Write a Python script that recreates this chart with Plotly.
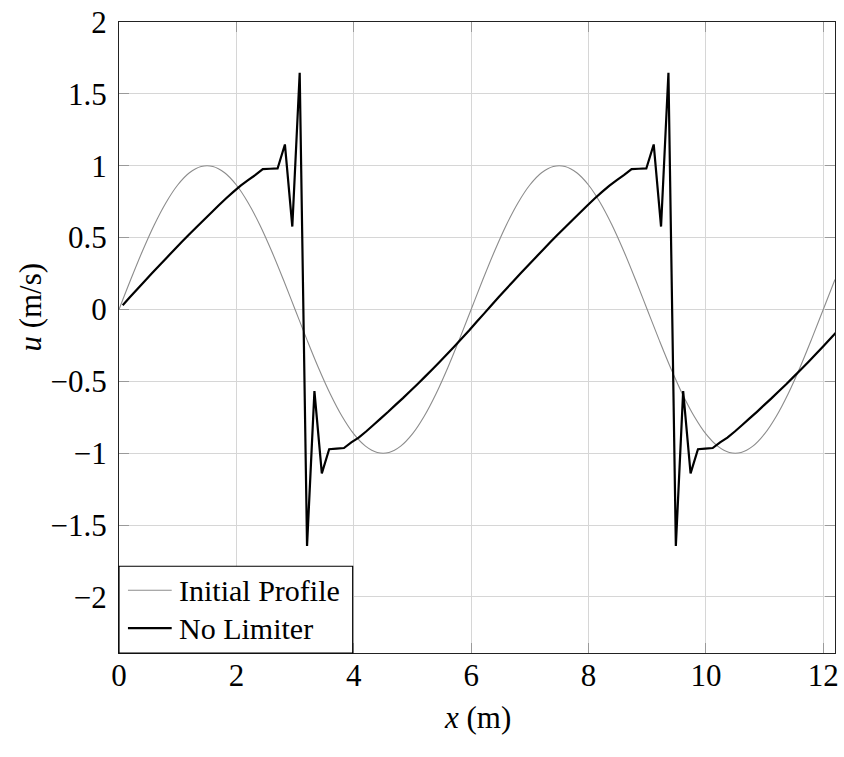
import plotly.graph_objects as go

# ---------------- data ----------------
init_x = [0.0, 0.2, 0.4, 0.6, 0.8, 1.0, 1.2, 1.4, 1.6, 1.8, 2.0, 2.2, 2.4, 2.6, 2.8,
          3.0, 3.2, 3.4, 3.6, 3.8, 4.0, 4.2, 4.4, 4.6, 4.8, 5.0, 5.2, 5.4, 5.6, 5.8,
          6.0, 6.2, 6.4, 6.6, 6.8, 7.0, 7.2, 7.4, 7.6, 7.8, 8.0, 8.2, 8.4, 8.6, 8.8,
          9.0, 9.2, 9.4, 9.6, 9.8, 10.0, 10.2, 10.4, 10.6, 10.8, 11.0, 11.2, 11.4, 11.6, 11.8,
          12.0, 12.2]
init_u = [0.0, 0.208, 0.407, 0.588, 0.743, 0.866, 0.951, 0.995, 0.995, 0.951, 0.866, 0.743, 0.588, 0.407, 0.208,
          0.0, -0.208, -0.407, -0.588, -0.743, -0.866, -0.951, -0.995, -0.995, -0.951, -0.866, -0.743, -0.588, -0.407, -0.208,
          0.0, 0.208, 0.407, 0.588, 0.743, 0.866, 0.951, 0.995, 0.995, 0.951, 0.866, 0.743, 0.588, 0.407, 0.208,
          0.0, -0.208, -0.407, -0.588, -0.743, -0.866, -0.951, -0.995, -0.995, -0.951, -0.866, -0.743, -0.588, -0.407, -0.208,
          0.0, 0.208]

nolim_x = [0.063, 0.188, 0.314, 0.440, 0.565, 0.691, 0.817, 0.942, 1.068, 1.194,
           1.319, 1.445, 1.571, 1.696, 1.822, 1.948, 2.073, 2.199, 2.325, 2.450,
           2.576, 2.702, 2.827, 2.953, 3.079, 3.204, 3.330, 3.456, 3.581, 3.707,
           3.833, 3.958, 4.084, 4.210, 4.335, 4.461, 4.587, 4.712, 4.838, 4.964,
           5.089, 5.215, 5.341, 5.466, 5.592, 5.718, 5.843, 5.969, 6.095, 6.220,
           6.346, 6.471, 6.597, 6.723, 6.848, 6.974, 7.100, 7.226, 7.351, 7.477,
           7.603, 7.728, 7.854, 7.980, 8.105, 8.231, 8.357, 8.482, 8.608, 8.734,
           8.859, 8.985, 9.111, 9.236, 9.362, 9.488, 9.613, 9.739, 9.865, 9.990,
           10.116, 10.242, 10.367, 10.493, 10.619, 10.744, 10.870, 10.996, 11.121, 11.247,
           11.373, 11.498, 11.624, 11.750, 11.875, 12.001, 12.127, 12.252]
nolim_u = [0.030, 0.086, 0.143, 0.198, 0.254, 0.308, 0.362, 0.416, 0.469, 0.521,
           0.572, 0.623, 0.673, 0.723, 0.772, 0.818, 0.862, 0.900, 0.936, 0.977,
           0.979, 0.981, 1.148, 0.577, 1.647, -1.645, -0.568, -1.140, -0.972, -0.968,
           -0.964, -0.925, -0.892, -0.849, -0.804, -0.758, -0.712, -0.664, -0.617, -0.567,
           -0.518, -0.467, -0.416, -0.364, -0.310, -0.256, -0.201, -0.145, -0.086, -0.029,
           0.030, 0.086, 0.143, 0.198, 0.254, 0.308, 0.362, 0.416, 0.469, 0.521,
           0.572, 0.623, 0.673, 0.723, 0.772, 0.818, 0.862, 0.900, 0.936, 0.977,
           0.979, 0.981, 1.148, 0.577, 1.647, -1.645, -0.568, -1.140, -0.972, -0.968,
           -0.964, -0.925, -0.892, -0.849, -0.804, -0.758, -0.712, -0.664, -0.617, -0.567,
           -0.518, -0.467, -0.416, -0.364, -0.310, -0.256, -0.201, -0.145]

x_ticks = [0, 2, 4, 6, 8, 10, 12]
x_labels = ["0", "2", "4", "6", "8", "10", "12"]
y_ticks = [-2, -1.5, -1, -0.5, 0, 0.5, 1, 1.5, 2]
y_labels = ["\u22122", "\u22121.5", "\u22121", "\u22120.5", "0", "0.5", "1", "1.5", "2"]

series_names = ["Initial Profile", "No Limiter"]
series_colors = ["#8c8c8c", "#000000"]

FONT = "Liberation Serif"
FS_TICK = 31
FS_LEG = 30
FS_TITLE = 31

fig = go.Figure()
fig.add_trace(go.Scatter(x=init_x, y=init_u, mode="lines", name=series_names[0],
                         line=dict(color=series_colors[0], width=1.1, shape="spline", simplify=False),
                         showlegend=False))
fig.add_trace(go.Scatter(x=nolim_x, y=nolim_u, mode="lines", name=series_names[1],
                         line=dict(color=series_colors[1], width=2.2, simplify=False),
                         showlegend=False))

axis_common = dict(showline=True, linecolor="#222", linewidth=1.2, mirror="allticks",
                   ticks="inside", ticklen=10, tickcolor="#9a9a9a", tickwidth=1,
                   showgrid=True, gridcolor="#d6d6d6", gridwidth=1, zeroline=False,
                   tickfont=dict(family=FONT, size=FS_TICK, color="black"))

fig.update_xaxes(range=[0, 12.2], tickvals=x_ticks, ticktext=x_labels,
                 ticklabelstandoff=-5, **axis_common)
fig.update_yaxes(range=[-2.39, 2], tickvals=y_ticks, ticktext=y_labels,
                 ticklabelstandoff=5, **axis_common)

# manual legend (lower-left)
W_PLOT = 720.0
H_PLOT = 633.0
box_x1 = (354 - 119) / W_PLOT
box_y1 = (653 - 566) / H_PLOT
leg_rows = [(653 - 590) / H_PLOT, (653 - 628) / H_PLOT]
lx0 = (128 - 119) / W_PLOT
lx1 = (172 - 119) / W_PLOT
tx = (177 - 119) / W_PLOT

shapes = [dict(type="rect", xref="paper", yref="paper", x0=0, y0=0, x1=box_x1, y1=box_y1,
               line=dict(color="black", width=1.2), fillcolor="white", layer="above")]
annotations = []
for row_y, nm, col, wd in zip(leg_rows, series_names, series_colors, [1.1, 2.2]):
    shapes.append(dict(type="line", xref="paper", yref="paper", x0=lx0, x1=lx1, y0=row_y, y1=row_y,
                       line=dict(color=col, width=wd), layer="above"))
    annotations.append(dict(xref="paper", yref="paper", x=tx, y=row_y, text=nm, showarrow=False,
                            xanchor="left", yanchor="middle",
                            font=dict(family=FONT, size=FS_LEG, color="black")))

annotations.append(dict(xref="paper", yref="paper", x=0.5, y=(653 - 718) / H_PLOT,
                        text="<i>x</i> (m)", showarrow=False, xanchor="center", yanchor="middle",
                        font=dict(family=FONT, size=FS_TITLE, color="black")))
annotations.append(dict(xref="paper", yref="paper", x=(30 - 119) / W_PLOT, y=(653 - 306) / H_PLOT,
                        text="<i>u</i> (m/s)", showarrow=False, textangle=-90,
                        xanchor="center", yanchor="middle",
                        font=dict(family=FONT, size=FS_TITLE, color="black")))

fig.update_layout(width=844, height=757, margin=dict(l=119, r=5, t=20, b=104),
                  paper_bgcolor="white", plot_bgcolor="white",
                  shapes=shapes, annotations=annotations, showlegend=False)

fig.write_html("out.html")
